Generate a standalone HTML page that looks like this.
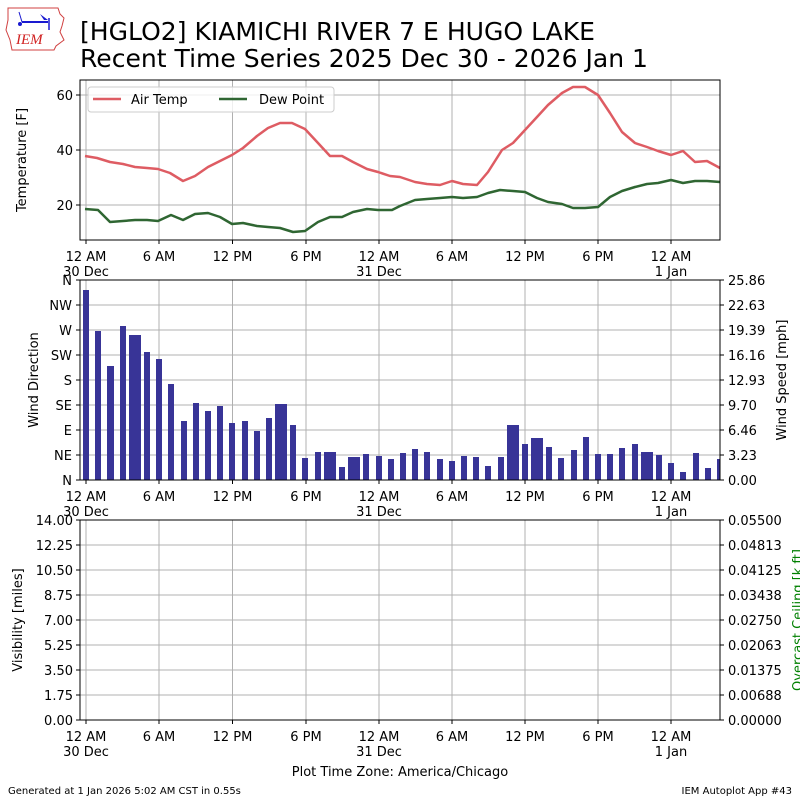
<!DOCTYPE html>
<html><head><meta charset="utf-8"><style>
body{margin:0;background:#fff;}
svg{display:block;font-family:"DejaVu Sans","Liberation Sans",sans-serif;}
.t{font-size:13px;fill:#000;}
.g{stroke:#b0b0b0;stroke-width:1;}
</style></head><body>
<svg width="800" height="800" viewBox="0 0 800 800" xmlns="http://www.w3.org/2000/svg">
<rect width="800" height="800" fill="#fff"/>
<g>
<path d="M8,8 L58,8 L60,14 L64,18 L62,26 L60,32 L64,40 L56,46 L54,50 L12,50 L10,40 L6,30 L8,20 Z" fill="none" stroke="#d04040" stroke-width="1"/>
<line x1="22" y1="22" x2="48" y2="22" stroke="#1a1ad0" stroke-width="2"/>
<line x1="19" y1="12" x2="22" y2="22" stroke="#1a1ad0" stroke-width="1"/>
<path d="M40,14 L48,20 L44,20 Z" fill="#1a1ad0"/>
<line x1="49" y1="18" x2="49" y2="30" stroke="#1a1ad0" stroke-width="1.5"/>
<circle cx="20" cy="24" r="2" fill="#1a1ad0"/>
<text x="16" y="44" font-family="Liberation Serif,serif" font-style="italic" font-size="15" fill="#d02020">IEM</text>
</g>
<text x="80" y="40" font-size="25" fill="#000" textLength="515" lengthAdjust="spacingAndGlyphs">[HGLO2] KIAMICHI RIVER 7 E HUGO LAKE</text>
<text x="80" y="67" font-size="25" fill="#000" textLength="568" lengthAdjust="spacingAndGlyphs">Recent Time Series 2025 Dec 30 - 2026 Jan 1</text>

<g class="g">
<line x1="86" y1="80" x2="86" y2="240"/><line x1="159" y1="80" x2="159" y2="240"/><line x1="232.5" y1="80" x2="232.5" y2="240"/><line x1="306" y1="80" x2="306" y2="240"/><line x1="379" y1="80" x2="379" y2="240"/><line x1="452" y1="80" x2="452" y2="240"/><line x1="525" y1="80" x2="525" y2="240"/><line x1="598" y1="80" x2="598" y2="240"/><line x1="671" y1="80" x2="671" y2="240"/>
<line x1="80" y1="95" x2="720" y2="95"/><line x1="80" y1="150" x2="720" y2="150"/><line x1="80" y1="205" x2="720" y2="205"/>
</g>
<polyline fill="none" stroke="#de5c63" stroke-width="2.5" stroke-linejoin="round" points="85,156 97,158 110,162 123,164 135,167 147,168 158,169 170,173 183,181 195,176 208,167 220,161 232,155 243,148 257,136 268,128 280,123 292,123 305,129 318,143 330,156 342,156 353,162 367,169 378,172 390,176 400,177 415,182 427,184 440,185 452,181 463,184 477,185 488,172 502,150 513,143 525,130 537,117 548,105 562,93 573,87 585,87 598,95 610,113 622,132 635,143 647,147 658,151 671,155 683,151 695,162 707,161 720,168"/>
<polyline fill="none" stroke="#2f6632" stroke-width="2.5" stroke-linejoin="round" points="85,209 98,210 110,222 123,221 135,220 147,220 158,221 171,215 183,220 195,214 208,213 220,217 232,224 243,223 257,226 268,227 280,228 293,232 305,231 318,222 330,217 342,217 353,212 367,209 378,210 392,210 400,206 415,200 427,199 440,198 452,197 463,198 477,197 488,193 500,190 513,191 525,192 537,198 548,202 562,204 573,208 585,208 598,207 610,197 622,191 635,187 647,184 658,183 671,180 683,183 695,181 707,181 720,182"/>
<rect x="80" y="80" width="640" height="160" fill="none" stroke="#000" stroke-width="1"/>
<rect x="88" y="87" width="246" height="25" rx="3" fill="#fff" fill-opacity="0.8" stroke="#ccc"/>
<line x1="93" y1="99" x2="121" y2="99" stroke="#de5c63" stroke-width="2.5"/>
<text x="131" y="104" class="t">Air Temp</text>
<line x1="219" y1="99" x2="247" y2="99" stroke="#2f6632" stroke-width="2.5"/>
<text x="259" y="104" class="t">Dew Point</text>
<g class="t" text-anchor="end">
<text x="73" y="100">60</text><text x="73" y="155">40</text><text x="73" y="210">20</text>
</g>
<g stroke="#000"><line x1="76" y1="95" x2="80" y2="95"/><line x1="76" y1="150" x2="80" y2="150"/><line x1="76" y1="205" x2="80" y2="205"/></g>
<text transform="translate(26,160) rotate(-90)" class="t" text-anchor="middle">Temperature [F]</text>

<g id="xt1" class="t" text-anchor="middle">
<g stroke="#000"><line x1="86" y1="240" x2="86" y2="244"/><line x1="159" y1="240" x2="159" y2="244"/><line x1="232.5" y1="240" x2="232.5" y2="244"/><line x1="306" y1="240" x2="306" y2="244"/><line x1="379" y1="240" x2="379" y2="244"/><line x1="452" y1="240" x2="452" y2="244"/><line x1="525" y1="240" x2="525" y2="244"/><line x1="598" y1="240" x2="598" y2="244"/><line x1="671" y1="240" x2="671" y2="244"/></g>
<text x="86" y="261">12 AM</text><text x="86" y="276">30 Dec</text>
<text x="159" y="261">6 AM</text><text x="232.5" y="261">12 PM</text><text x="306" y="261">6 PM</text>
<text x="379" y="261">12 AM</text><text x="379" y="276">31 Dec</text>
<text x="452" y="261">6 AM</text><text x="525" y="261">12 PM</text><text x="598" y="261">6 PM</text>
<text x="671" y="261">12 AM</text><text x="671" y="276">1 Jan</text>
</g>

<g class="g">
<line x1="86" y1="280" x2="86" y2="480"/><line x1="159" y1="280" x2="159" y2="480"/><line x1="232.5" y1="280" x2="232.5" y2="480"/><line x1="306" y1="280" x2="306" y2="480"/><line x1="379" y1="280" x2="379" y2="480"/><line x1="452" y1="280" x2="452" y2="480"/><line x1="525" y1="280" x2="525" y2="480"/><line x1="598" y1="280" x2="598" y2="480"/><line x1="671" y1="280" x2="671" y2="480"/>
<line x1="80" y1="305" x2="720" y2="305"/><line x1="80" y1="330" x2="720" y2="330"/><line x1="80" y1="355" x2="720" y2="355"/><line x1="80" y1="380" x2="720" y2="380"/><line x1="80" y1="405" x2="720" y2="405"/><line x1="80" y1="430" x2="720" y2="430"/><line x1="80" y1="455" x2="720" y2="455"/>
</g>
<g fill="#383497">
<rect x="83" y="290" width="6" height="190"/><rect x="95" y="331" width="6" height="149"/><rect x="107" y="366" width="7" height="114"/><rect x="120" y="326" width="6" height="154"/><rect x="129" y="335" width="12" height="145"/><rect x="144" y="352" width="6" height="128"/><rect x="156" y="359" width="6" height="121"/><rect x="168" y="384" width="6" height="96"/><rect x="181" y="421" width="6" height="59"/><rect x="193" y="403" width="6" height="77"/><rect x="205" y="411" width="6" height="69"/><rect x="217" y="406" width="6" height="74"/><rect x="229" y="423" width="6" height="57"/><rect x="242" y="421" width="6" height="59"/><rect x="254" y="431" width="6" height="49"/><rect x="266" y="418" width="6" height="62"/><rect x="275" y="404" width="12" height="76"/><rect x="290" y="425" width="6" height="55"/><rect x="302" y="458" width="6" height="22"/><rect x="315" y="452" width="6" height="28"/><rect x="324" y="452" width="12" height="28"/><rect x="339" y="467" width="6" height="13"/><rect x="348" y="457" width="12" height="23"/><rect x="363" y="454" width="6" height="26"/><rect x="376" y="456" width="6" height="24"/><rect x="388" y="459" width="6" height="21"/>
<rect x="400" y="453" width="6" height="27"/><rect x="412" y="449" width="6" height="31"/><rect x="424" y="452" width="6" height="28"/><rect x="437" y="459" width="6" height="21"/><rect x="449" y="461" width="6" height="19"/><rect x="461" y="456" width="6" height="24"/><rect x="473" y="457" width="6" height="23"/><rect x="485" y="466" width="6" height="14"/><rect x="498" y="457" width="6" height="23"/><rect x="507" y="425" width="12" height="55"/><rect x="522" y="444" width="6" height="36"/><rect x="531" y="438" width="12" height="42"/><rect x="546" y="447" width="6" height="33"/><rect x="558" y="458" width="6" height="22"/><rect x="571" y="450" width="6" height="30"/><rect x="583" y="437" width="6" height="43"/><rect x="595" y="454" width="6" height="26"/><rect x="607" y="454" width="6" height="26"/><rect x="619" y="448" width="6" height="32"/><rect x="632" y="444" width="6" height="36"/><rect x="641" y="452" width="12" height="28"/><rect x="656" y="455" width="6" height="25"/><rect x="668" y="463" width="6" height="17"/><rect x="680" y="472" width="6" height="8"/><rect x="693" y="453" width="6" height="27"/><rect x="705" y="468" width="6" height="12"/><rect x="717" y="459" width="3" height="21"/>
</g>
<rect x="80" y="280" width="640" height="200" fill="none" stroke="#000" stroke-width="1"/>
<g class="t" text-anchor="end">
<text x="72" y="285">N</text><text x="72" y="310">NW</text><text x="72" y="335">W</text><text x="72" y="360">SW</text><text x="72" y="385">S</text><text x="72" y="410">SE</text><text x="72" y="435">E</text><text x="72" y="460">NE</text><text x="72" y="485">N</text>
</g>
<g class="t">
<text x="728" y="285">25.86</text><text x="728" y="310">22.63</text><text x="728" y="335">19.39</text><text x="728" y="360">16.16</text><text x="728" y="385">12.93</text><text x="728" y="410">9.70</text><text x="728" y="435">6.46</text><text x="728" y="460">3.23</text><text x="728" y="485">0.00</text>
</g>
<g stroke="#000">
<line x1="76" y1="280" x2="80" y2="280"/><line x1="76" y1="305" x2="80" y2="305"/><line x1="76" y1="330" x2="80" y2="330"/><line x1="76" y1="355" x2="80" y2="355"/><line x1="76" y1="380" x2="80" y2="380"/><line x1="76" y1="405" x2="80" y2="405"/><line x1="76" y1="430" x2="80" y2="430"/><line x1="76" y1="455" x2="80" y2="455"/><line x1="76" y1="480" x2="80" y2="480"/>
<line x1="720" y1="280" x2="724" y2="280"/><line x1="720" y1="305" x2="724" y2="305"/><line x1="720" y1="330" x2="724" y2="330"/><line x1="720" y1="355" x2="724" y2="355"/><line x1="720" y1="380" x2="724" y2="380"/><line x1="720" y1="405" x2="724" y2="405"/><line x1="720" y1="430" x2="724" y2="430"/><line x1="720" y1="455" x2="724" y2="455"/><line x1="720" y1="480" x2="724" y2="480"/>
</g>
<text transform="translate(38,380) rotate(-90)" class="t" text-anchor="middle">Wind Direction</text>
<text transform="translate(786,380) rotate(-90)" class="t" text-anchor="middle">Wind Speed [mph]</text>
<use href="#xt1" transform="translate(0,240)"/>

<g class="g">
<line x1="86" y1="520" x2="86" y2="720"/><line x1="159" y1="520" x2="159" y2="720"/><line x1="232.5" y1="520" x2="232.5" y2="720"/><line x1="306" y1="520" x2="306" y2="720"/><line x1="379" y1="520" x2="379" y2="720"/><line x1="452" y1="520" x2="452" y2="720"/><line x1="525" y1="520" x2="525" y2="720"/><line x1="598" y1="520" x2="598" y2="720"/><line x1="671" y1="520" x2="671" y2="720"/>
<line x1="80" y1="545" x2="720" y2="545"/><line x1="80" y1="570" x2="720" y2="570"/><line x1="80" y1="595" x2="720" y2="595"/><line x1="80" y1="620" x2="720" y2="620"/><line x1="80" y1="645" x2="720" y2="645"/><line x1="80" y1="670" x2="720" y2="670"/><line x1="80" y1="695" x2="720" y2="695"/>
</g>
<rect x="80" y="520" width="640" height="200" fill="none" stroke="#000" stroke-width="1"/>
<g class="t" text-anchor="end">
<text x="73" y="525">14.00</text><text x="73" y="550">12.25</text><text x="73" y="575">10.50</text><text x="73" y="600">8.75</text><text x="73" y="625">7.00</text><text x="73" y="650">5.25</text><text x="73" y="675">3.50</text><text x="73" y="700">1.75</text><text x="73" y="725">0.00</text>
</g>
<g class="t">
<text x="728" y="525">0.05500</text><text x="728" y="550">0.04813</text><text x="728" y="575">0.04125</text><text x="728" y="600">0.03438</text><text x="728" y="625">0.02750</text><text x="728" y="650">0.02063</text><text x="728" y="675">0.01375</text><text x="728" y="700">0.00688</text><text x="728" y="725">0.00000</text>
</g>
<g stroke="#000">
<line x1="76" y1="520" x2="80" y2="520"/><line x1="76" y1="545" x2="80" y2="545"/><line x1="76" y1="570" x2="80" y2="570"/><line x1="76" y1="595" x2="80" y2="595"/><line x1="76" y1="620" x2="80" y2="620"/><line x1="76" y1="645" x2="80" y2="645"/><line x1="76" y1="670" x2="80" y2="670"/><line x1="76" y1="695" x2="80" y2="695"/><line x1="76" y1="720" x2="80" y2="720"/>
<line x1="720" y1="520" x2="724" y2="520"/><line x1="720" y1="545" x2="724" y2="545"/><line x1="720" y1="570" x2="724" y2="570"/><line x1="720" y1="595" x2="724" y2="595"/><line x1="720" y1="620" x2="724" y2="620"/><line x1="720" y1="645" x2="724" y2="645"/><line x1="720" y1="670" x2="724" y2="670"/><line x1="720" y1="695" x2="724" y2="695"/><line x1="720" y1="720" x2="724" y2="720"/>
</g>
<text transform="translate(22,620) rotate(-90)" class="t" text-anchor="middle">Visibility [miles]</text>
<text transform="translate(802,620) rotate(-90)" class="t" text-anchor="middle" style="fill:#008000">Overcast Ceiling [k ft]</text>
<use href="#xt1" transform="translate(0,480)"/>
<text x="400" y="776" class="t" text-anchor="middle">Plot Time Zone: America/Chicago</text>
<text x="8" y="794" font-size="10" fill="#000">Generated at 1 Jan 2026 5:02 AM CST in 0.55s</text>
<text x="792" y="794" font-size="10" fill="#000" text-anchor="end">IEM Autoplot App #43</text>
</svg>
</body></html>
